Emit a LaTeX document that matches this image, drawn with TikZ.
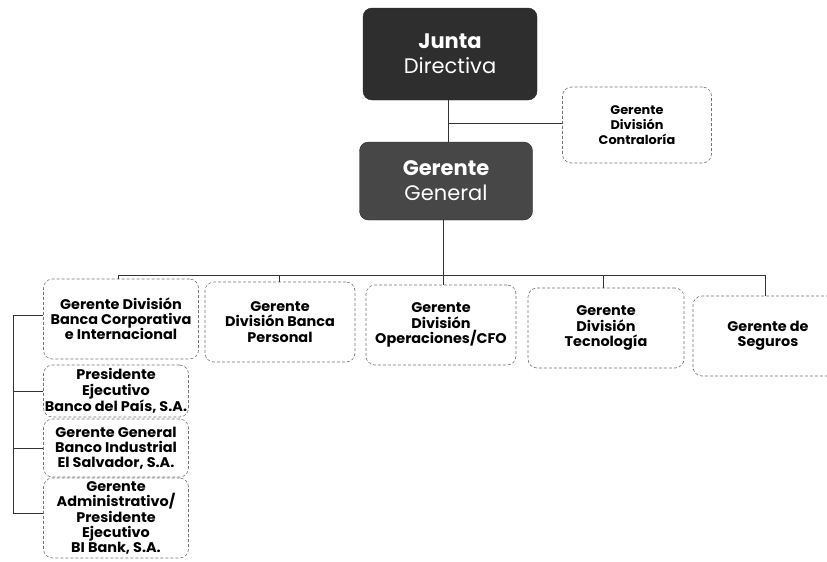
\documentclass[tikz,border=0pt]{standalone}
\usepackage{fontspec}
\setmainfont{Poppins}
\newfontfamily\boxfont{Poppins}[FakeStretch=1.03]
\begin{document}
\begin{tikzpicture}[x=1pt,y=-1pt,
  darkbox/.style={draw=black!85, fill=black!82, rounded corners=9pt, text=white, align=center, inner sep=0pt},
  unitbox/.style={draw=black!55, densely dashed, line width=0.6pt, rounded corners=9pt, align=center, inner sep=0pt, font=\boxfont\fontsize{14}{15.2}\selectfont\bfseries},
  link/.style={draw=black!80, line width=0.8pt}
]
\useasboundingbox (0,0) rectangle (827,562);
% top
\node[darkbox, minimum width=174pt, minimum height=92pt, font=\fontsize{21}{25}\selectfont] (jd) at (450,54)
  {\textbf{Junta}\\Directiva};
\node[unitbox, minimum width=149pt, minimum height=76pt, font=\boxfont\fontsize{12.5}{15}\selectfont\bfseries] (ctr) at (637,125)
  {Gerente\\División\\Contraloría};
\node[darkbox, fill=black!72, minimum width=173pt, minimum height=78pt, font=\fontsize{21}{25}\selectfont] (gg) at (446,181)
  {\textbf{Gerente}\\General};
% row
\node[unitbox, minimum width=155pt, minimum height=80pt] (b1) at (121,319)
  {Gerente División\\Banca Corporativa\\e Internacional};
\node[unitbox, minimum width=150pt, minimum height=80pt] (b2) at (280,322)
  {Gerente\\División Banca\\Personal};
\node[unitbox, minimum width=150pt, minimum height=80pt] (b3) at (441,325)
  {Gerente\\División\\Operaciones/CFO};
\node[unitbox, minimum width=156pt, minimum height=80pt] (b4) at (606,328)
  {Gerente\\División\\Tecnología};
\node[unitbox, minimum width=150pt, minimum height=80pt] (b5) at (768,336)
  {Gerente de\\Seguros};
% stack
\node[unitbox, minimum width=145pt, minimum height=52pt] (s1) at (116,391)
  {Presidente\\Ejecutivo\\Banco del País, S.A.};
\node[unitbox, minimum width=145pt, minimum height=58pt] (s2) at (116,448)
  {Gerente General\\Banco Industrial\\El Salvador, S.A.};
\node[unitbox, minimum width=145pt, minimum height=80pt] (s3) at (116,518)
  {Gerente\\Administrativo/\\Presidente\\Ejecutivo\\BI Bank, S.A.};
% connectors
\coordinate (jg) at (448,123);
\draw[link] (jd.south -| jg) -- (gg.north -| jg);
\draw[link] (jg) -- (jg -| ctr.west);
\coordinate (bus) at (443,275);
\draw[link] (gg.south -| bus) -- (bus);
\draw[link] (118,275) -- (765,275);
\draw[link] (118,275) -- (b1.north -| 118,0);
\draw[link] (279,275) -- (b2.north -| 279,0);
\draw[link] (bus) -- (b3.north -| bus);
\draw[link] (603,275) -- (b4.north -| 603,0);
\draw[link] (765,275) -- (b5.north -| 765,0);
\coordinate (lt) at (13,315);
\coordinate (lb) at (13,513);
\draw[link] (b1.west |- lt) -- (lt) -- (lb) -- (s3.west |- lb);
\draw[link] (13,391) -- (s1.west);
\draw[link] (13,448) -- (s2.west);
\end{tikzpicture}
\end{document}
